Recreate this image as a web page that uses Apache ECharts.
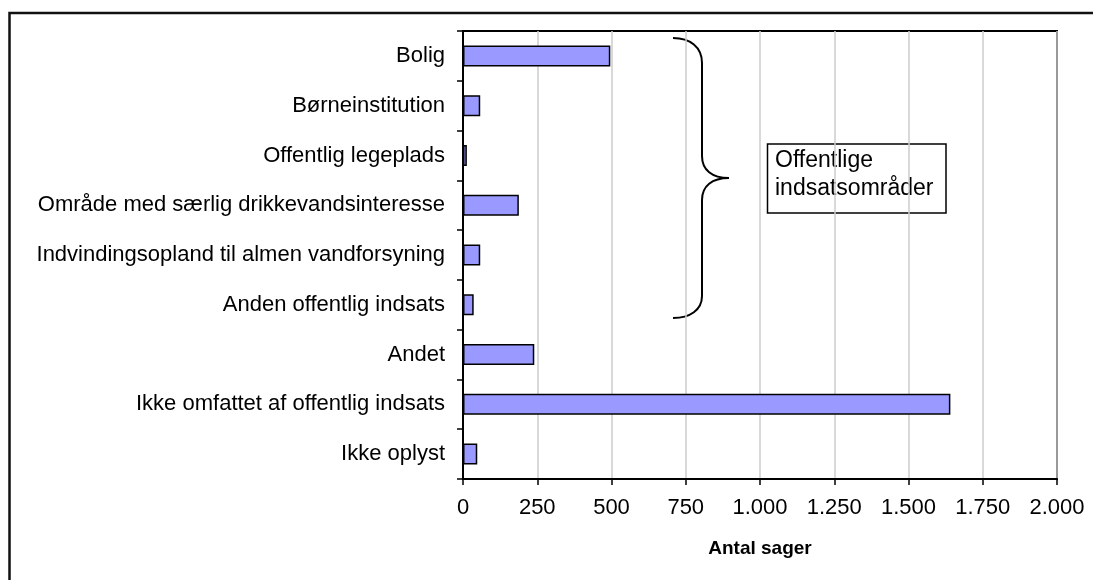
<!DOCTYPE html>
<html>
<head>
<meta charset="utf-8">
<title>Antal sager</title>
<script src="https://cdn.jsdelivr.net/npm/echarts@6/dist/echarts.min.js"></script>
<style>
  html, body { margin: 0; padding: 0; background: #fff; }
  #chart { width: 1093px; height: 580px; }
</style>
</head>
<body>
<div id="chart"></div>
<script>
"use strict";

// --- data ---
const categories = [
  "Bolig",
  "Børneinstitution",
  "Offentlig legeplads",
  "Område med særlig drikkevandsinteresse",
  "Indvindingsopland til almen vandforsyning",
  "Anden offentlig indsats",
  "Andet",
  "Ikke omfattet af offentlig indsats",
  "Ikke oplyst",
];
const sager = [496, 58, 13, 188, 58, 36, 240, 1641, 48];
const axisName = "Antal sager";
const braceNote = ["Offentlige", "indsatsområder"];

const FONT = "Liberation Sans, Arial, sans-serif";

/** thousands separator as in Danish: 1.000 */
const fmt = (v) => String(v).replace(/\B(?=(\d{3})+(?!\d))/g, ".");

const braceStyle = { fill: "none", stroke: "#000", lineWidth: 2 };

/**
 * @param {number[]} p  x1,y1,cpx1,cpy1,cpx2,cpy2,x2,y2
 */
const curve = (p) => ({
  type: "bezierCurve",
  shape: { x1: p[0], y1: p[1], cpx1: p[2], cpy1: p[3], cpx2: p[4], cpy2: p[5], x2: p[6], y2: p[7] },
  style: braceStyle,
  silent: true,
});

/**
 * @param {number[]} p  x1,y1,x2,y2
 */
const line = (p) => ({
  type: "line",
  shape: { x1: p[0], y1: p[1], x2: p[2], y2: p[3] },
  style: braceStyle,
  silent: true,
});

const chart = echarts.init(document.getElementById("chart"));

chart.setOption({
  backgroundColor: "#fff",
  animation: false,
  grid: {
    left: 463,
    right: 36,
    top: 31,
    bottom: 101,
    show: true,
    borderColor: "#000",
    borderWidth: 2,
  },
  xAxis: {
    type: "value",
    min: 0,
    max: 2000,
    interval: 250,
    name: axisName,
    nameLocation: "middle",
    nameGap: 60,
    nameTextStyle: { fontFamily: FONT, fontSize: 19, fontWeight: "bold", color: "#000" },
    axisLine: { show: true, lineStyle: { color: "#000", width: 2 } },
    axisTick: { show: true, length: 6, lineStyle: { color: "#000", width: 1.5 } },
    axisLabel: { fontFamily: FONT, fontSize: 22, color: "#000", margin: 18, formatter: fmt },
    splitLine: { show: true, lineStyle: { color: "#cccccc", width: 1.5 } },
  },
  yAxis: {
    type: "category",
    data: categories,
    inverse: true,
    axisLine: { show: true, lineStyle: { color: "#000", width: 2 } },
    axisTick: { show: true, length: 6, lineStyle: { color: "#000", width: 1.5 } },
    axisLabel: { fontFamily: FONT, fontSize: 22, color: "#000", margin: 18 },
    splitLine: { show: false },
  },
  series: [
    {
      type: "bar",
      data: sager,
      barWidth: 21,
      itemStyle: { color: "#9999ff", borderColor: "#000", borderWidth: 1.5 },
    },
  ],
  graphic: [
    // outer frame (right and bottom edges fall outside the picture)
    {
      type: "rect",
      shape: { x: 9.5, y: 13, width: 1200, height: 700 },
      style: { fill: "none", stroke: "#111", lineWidth: 2.5 },
      silent: true,
    },
    // curly brace
    curve([673, 38, 690, 38, 702, 47, 702, 63]),
    line([702, 63, 702, 156]),
    curve([702, 156, 702, 170, 712, 178, 729, 178]),
    curve([729, 178, 712, 178, 702, 186, 702, 200]),
    line([702, 200, 702, 296]),
    curve([702, 296, 702, 310, 690, 318, 673, 318]),
    {
      type: "rect",
      shape: { x: 767.5, y: 144, width: 178.5, height: 69 },
      style: { fill: "#fff", stroke: "#000", lineWidth: 1.5 },
      silent: true,
    },
    {
      type: "text",
      x: 775,
      y: 147,
      style: {
        text: braceNote.join("\n"),
        fontFamily: FONT,
        fontSize: 23,
        lineHeight: 28,
        fill: "#000",
        align: "left",
        verticalAlign: "top",
      },
      silent: true,
    },
  ],
});
</script>
</body>
</html>
